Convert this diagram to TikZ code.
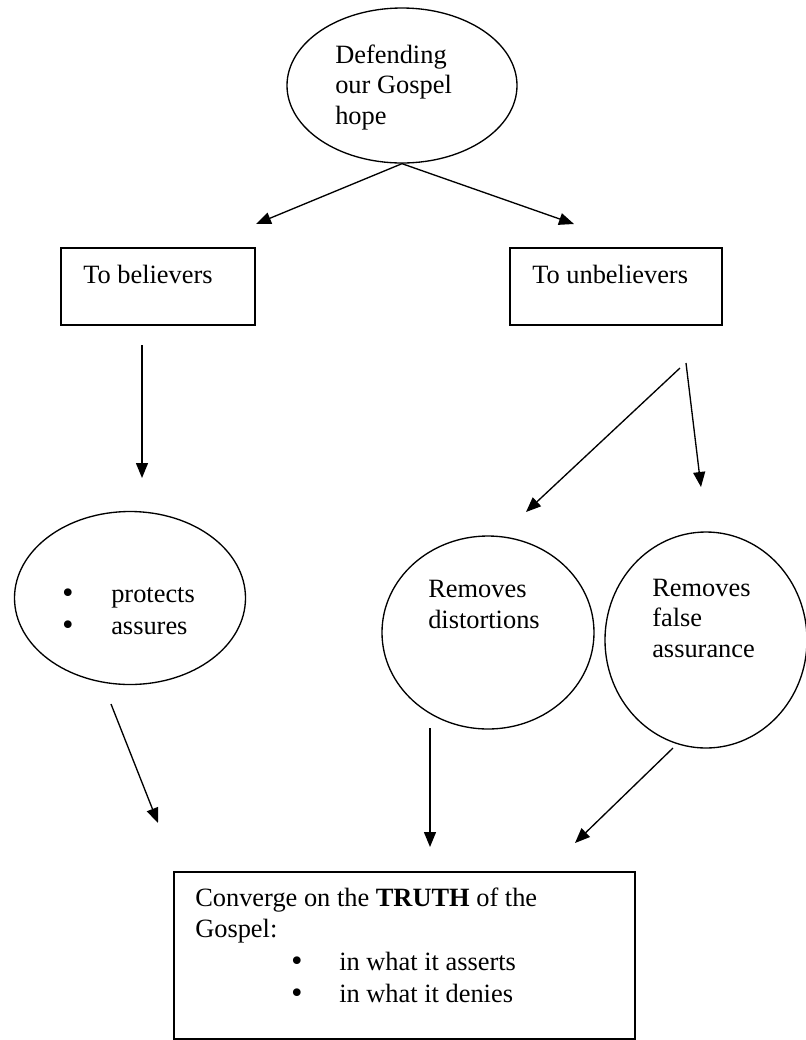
\documentclass[tikz,border=0pt]{standalone}
\usepackage{fontspec}
\setmainfont{Liberation Serif}
\newfontfamily\bulletfont{DejaVu Sans}
\usetikzlibrary{shapes.geometric,arrows.meta}

\tikzset{
  oval/.style={draw,ellipse,line width=1pt,inner sep=0pt},
  frame/.style={draw,rectangle,line width=1.3pt,inner sep=0pt},
  txt/.style={anchor=base west,inner sep=0pt},
  dot/.style={anchor=base,inner sep=0pt,font=\fontsize{19.8pt}{23pt}\bulletfont},
  arr/.style={line width=1pt,-{Triangle[length=11.25pt,width=9pt]}},
}

\begin{document}
\begin{tikzpicture}[x=0.75pt,y=0.75pt,yscale=-1,xscale=1,font=\fontsize{19.8pt}{23pt}\selectfont]
\useasboundingbox (0,0) rectangle (806,1040);

%Shape: Ellipse [id:hope]
\node [oval,minimum width=172.5pt,minimum height=116.25pt] (hope) at (402,85.5) {};
%Shape: Rectangle [id:believers]
\node [frame,minimum width=145.5pt,minimum height=57.75pt] (believers) at (158,286.5) {};
%Shape: Rectangle [id:unbelievers]
\node [frame,minimum width=159pt,minimum height=57.75pt] (unbelievers) at (616,286.5) {};
%Shape: Ellipse [id:protects]
\node [oval,minimum width=173.25pt,minimum height=129.75pt] (protects) at (130,598) {};
%Shape: Ellipse [id:distortions]
\node [oval,minimum width=159pt,minimum height=144.75pt] (distortions) at (488,632.5) {};
%Shape: Ellipse [id:falseassur]
\node [oval,minimum width=151.5pt,minimum height=162pt] (falseassur) at (706,640) {};
%Shape: Rectangle [id:truth]
\node [frame,minimum width=345.75pt,minimum height=125.25pt] (truth) at (404.5,955.5) {};

% free ends of the connectors
\coordinate (bel-in) at (256,224);
\coordinate (unb-in) at (574,224);
\coordinate (bel-out) at (142,345);
\coordinate (prot-in) at (142,478);
\coordinate (unb-outa) at (680,368);
\coordinate (dist-in) at (526,512);
\coordinate (unb-outb) at (686,363);
\coordinate (fals-in) at (701,487);
\coordinate (prot-out) at (111,704);
\coordinate (truth-ina) at (158,823);
\coordinate (dist-out) at (430,728);
\coordinate (truth-inb) at (430,847);
\coordinate (fals-out) at (673,748);
\coordinate (truth-inc) at (575,843);

%Straight Lines
\draw [arr] (hope.south) -- (bel-in);
\draw [arr] (hope.south) -- (unb-in);
\draw [arr] (bel-out) -- (prot-in);
\draw [arr] (unb-outa) -- (dist-in);
\draw [arr] (unb-outb) -- (fals-in);
\draw [arr] (prot-out) -- (truth-ina);
\draw [arr] (dist-out) -- (truth-inb);
\draw [arr] (fals-out) -- (truth-inc);

% Text Node
\node [txt] (hope-a) at (335,63) {Defending};
\node [txt] (hope-b) at (335,93) {our Gospel};
\node [txt] (hope-c) at (335,124) {hope};
% Text Node
\node [txt] (bel-t) at (83,283) {To believers};
\node [txt] (unb-t) at (532,283) {To unbelievers};
% Text Node
\node [dot] (prot-da) at (68,602) {•};
\node [dot] (prot-db) at (68,634) {•};
\node [txt] (prot-a) at (111,602) {protects};
\node [txt] (prot-b) at (111,634) {assures};
% Text Node
\node [txt] (dist-a) at (428,597) {Removes};
\node [txt] (dist-b) at (428,628) {distortions};
% Text Node
\node [txt] (fals-a) at (652,596) {Removes};
\node [txt] (fals-b) at (652,626) {false};
\node [txt] (fals-c) at (652,657) {assurance};
% Text Node
\node [txt] (truth-a) at (195,906) {Converge on the \textbf{TRUTH} of the};
\node [txt] (truth-b) at (195,937) {Gospel:};
\node [dot] (truth-da) at (297,970) {•};
\node [dot] (truth-db) at (297,1002) {•};
\node [txt] (truth-c) at (339,970) {in what it asserts};
\node [txt] (truth-d) at (339,1002) {in what it denies};

\end{tikzpicture}
\end{document}
